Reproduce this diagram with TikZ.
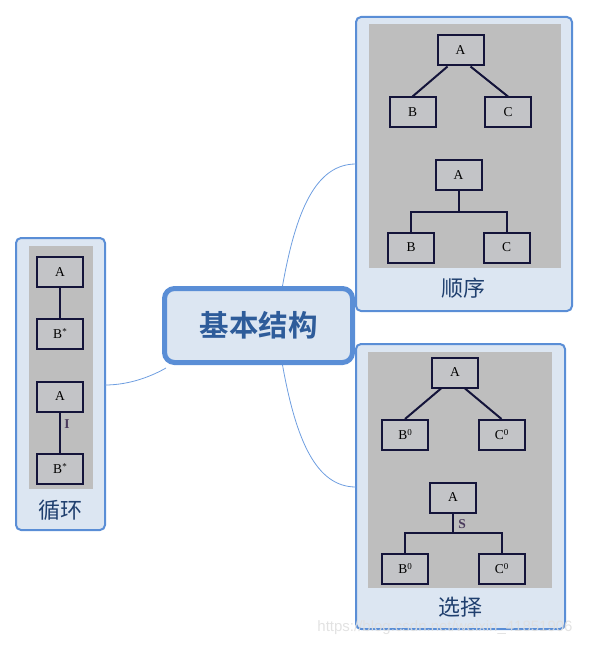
\documentclass[tikz,border=0pt]{standalone}
\usepackage{fontspec}
\setmainfont{Liberation Serif}
\newfontfamily\cjk{Noto Sans CJK SC}
\newfontfamily\cjkbold{Noto Sans CJK SC Bold}
\newfontfamily\wmfont{Liberation Sans}
\definecolor{mapblue}{HTML}{5A8ED6}
\definecolor{mapfill}{HTML}{DCE6F2}
\definecolor{maptext}{HTML}{2E5C9A}
\definecolor{labeltext}{HTML}{1F3F6E}
\definecolor{linkblue}{HTML}{6E9EE0}
\definecolor{panelgray}{HTML}{BEBEBE}
\definecolor{boxgray}{HTML}{C3C4C7}
\definecolor{boxline}{HTML}{14143A}
\definecolor{marktext}{HTML}{4A3A5C}
\newcommand{\upmark}[1]{\raisebox{4pt}{\fontsize{9}{10}\selectfont#1}}
\tikzset{
  topic/.style={draw=mapblue,fill=mapfill,line width=2pt,rounded corners=5pt},
  roottopic/.style={draw=mapblue,fill=mapfill,line width=5pt,rounded corners=10pt,
    minimum width=188pt,minimum height=74pt,inner sep=0pt,
    font=\cjkbold\fontsize{29.5}{31}\selectfont,text=maptext},
  toplabel/.style={font=\cjk\fontsize{22}{24}\selectfont,text=labeltext},
  treebox/.style={draw=boxline,fill=boxgray,line width=2pt,minimum width=46pt,
    minimum height=30pt,inner sep=0pt,font=\fontsize{13.5}{15}\selectfont},
  treeline/.style={draw=boxline,line width=2pt},
  link/.style={draw=linkblue,line width=0.8pt},
  edgemark/.style={font=\fontsize{13.5}{15}\selectfont\bfseries,text=marktext}
}
\begin{document}
\begin{tikzpicture}[x=1pt,y=-1pt]
\useasboundingbox (0,0) rectangle (590,647);
% panels
\draw[topic] (356,17) rectangle (572,311);
\fill[panelgray] (369,24) rectangle (561,268);
\node[toplabel] (seqlabel) at (463,288) {顺序};
\draw[topic] (356,344) rectangle (565,629);
\fill[panelgray] (368,352) rectangle (552,588);
\node[toplabel] (sellabel) at (460,607) {选择};
\draw[topic] (16,238) rectangle (105,530);
\fill[panelgray] (29,246) rectangle (93,489);
\node[toplabel] (looplabel) at (60,510) {循环};
% root
\node[roottopic] (root) at (258.5,325.5) {基本结构};
\coordinate (seqin) at (356,164);
\coordinate (selin) at (356,487);
\coordinate (loopin) at (105,385);
\draw[link] ([xshift=24pt]root.north) .. controls (296,210) and (316,164) .. (seqin);
\draw[link] ([xshift=24pt]root.south) .. controls (296,440) and (316,487) .. (selin);
\draw[link] (loopin) .. controls (130,385) and (152,376) .. ([xshift=4pt,yshift=-3pt]root.south west);
% sequence
\node[treebox] (sa) at (460.5,50.5) {A};
\node[treebox] (sb) at (412.5,112.5) {B};
\node[treebox] (sc) at (508,112.5) {C};
\draw[treeline] ([xshift=-13pt]sa.south) -- (sb.north);
\draw[treeline] ([xshift=10pt]sa.south) -- (sc.north);
\node[treebox] (ta) at (458.5,175) {A};
\node[treebox] (tb) at (411,247.5) {B};
\node[treebox] (tc) at (506.5,247.5) {C};
\coordinate (tj) at (458.5,212);
\draw[treeline] (ta.south) -- (tj);
\draw[treeline] (tb.north) |- (tj) -| (tc.north);
% selection
\node[treebox] (ca) at (455,372.5) {A};
\node[treebox] (cb) at (405,435) {B\upmark{0}};
\node[treebox] (cc) at (501.5,435) {C\upmark{0}};
\draw[treeline] ([xshift=-14pt]ca.south) -- (cb.north);
\draw[treeline] ([xshift=10pt]ca.south) -- (cc.north);
\node[treebox] (da) at (453,497.5) {A};
\node[treebox] (db) at (405,569) {B\upmark{0}};
\node[treebox] (dc) at (501.5,569) {C\upmark{0}};
\coordinate (dj) at (453,533);
\draw[treeline] (da.south) -- (dj);
\draw[treeline] (db.north) |- (dj) -| (dc.north);
\node[edgemark] (ds) at (462,524) {S};
% loop
\node[treebox] (la) at (60,272) {A};
\node[treebox] (lb) at (60,334) {B\upmark{*}};
\draw[treeline] (la.south) -- (lb.north);
\node[treebox] (ma) at (60,396.5) {A};
\node[treebox] (mb) at (60,469) {B\upmark{*}};
\draw[treeline] (ma.south) -- (mb.north);
\node[edgemark] (mi) at (67,424) {I};
% watermark
\node[font=\wmfont\fontsize{15}{16}\selectfont,text=gray!25,opacity=0.9] (wm) at (445,628) {https://blog.csdn.net/weixin\_41851906};
\end{tikzpicture}
\end{document}
